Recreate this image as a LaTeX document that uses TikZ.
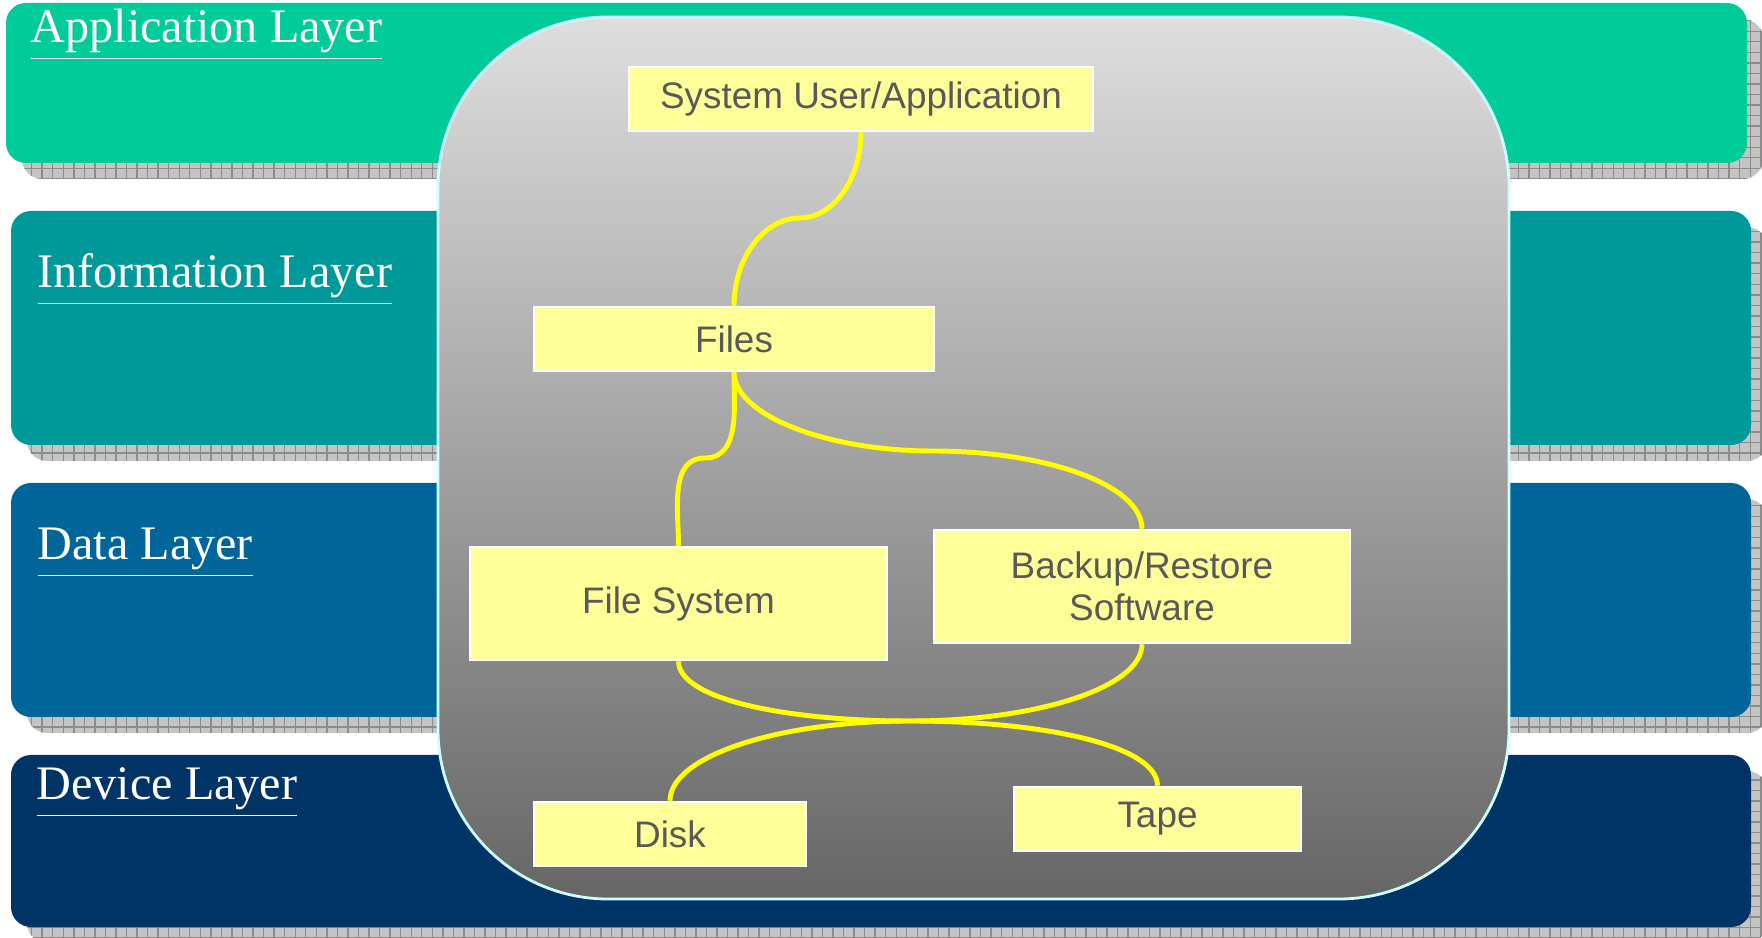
\documentclass[tikz,border=0pt]{standalone}
\usepackage{fontspec}
\setmainfont{Liberation Serif}
\newfontfamily\boxfont{Liberation Sans}
\usetikzlibrary{patterns}
\definecolor{appgreen}{RGB}{0,204,153}
\definecolor{infoteal}{RGB}{0,153,153}
\definecolor{datablue}{RGB}{0,102,153}
\definecolor{devblue}{RGB}{0,51,102}
\definecolor{shadowgray}{RGB}{196,196,196}
\definecolor{gridgray}{RGB}{140,140,140}
\definecolor{paneltop}{RGB}{222,222,222}
\definecolor{panelbottom}{RGB}{102,102,102}
\definecolor{panelrim}{RGB}{204,255,255}
\definecolor{boxyellow}{RGB}{255,255,153}
\definecolor{boxtext}{RGB}{89,89,89}
\definecolor{linkyellow}{RGB}{255,255,0}
\tikzset{
  band/.style={rounded corners=2mm},
  bandshadow/.style={rounded corners=2mm,fill=shadowgray,postaction={pattern=grid,pattern color=gridgray}},
  layertitle/.style={anchor=base west,text=white,inner sep=0pt,font=\fontsize{13.7}{16}\selectfont},
  compbox/.style={draw=white,line width=0.7pt,fill=boxyellow,text=boxtext,align=center,
    inner sep=0pt,minimum height=6.4mm,font=\boxfont\fontsize{10.5}{12}\selectfont},
  link/.style={draw=linkyellow,line width=1.4pt}
}
\begin{document}
\begin{tikzpicture}[x=0.1mm,y=-0.1mm]
  \useasboundingbox (0,0) rectangle (1762,938);
  % layer bands with their shadows
  \fill[bandshadow] (22,19) rectangle (1763,179);
  \fill[bandshadow] (27,227) rectangle (1767,461);
  \fill[bandshadow] (27,499) rectangle (1767,733);
  \fill[bandshadow] (27,771) rectangle (1767,943);
  \fill[band,appgreen] (6,3) rectangle (1747,163);
  \fill[band,infoteal] (11,211) rectangle (1751,445);
  \fill[band,datablue] (11,483) rectangle (1751,717);
  \fill[band,devblue] (11,755) rectangle (1751,927);
  \node[layertitle] (apptitle) at (30,43) {\underline{Application Layer}};
  \node[layertitle] (infotitle) at (37,288) {\underline{Information Layer}};
  \node[layertitle] (datatitle) at (37,560) {\underline{Data Layer}};
  \node[layertitle] (devtitle) at (36,800) {\underline{Device Layer}};
  % storage stack panel
  \draw[draw=panelrim,line width=0.8pt,top color=paneltop,bottom color=panelbottom,rounded corners=17mm]
    (438,17) rectangle (1509,899);
  \node[compbox,minimum width=46.4mm] (sysapp) at (861,99) {System User/Application};
  \node[compbox,minimum width=40mm] (files) at (734,339) {Files};
  \node[compbox,minimum width=41.7mm,minimum height=11.3mm] (filesys) at (678.5,603.5) {File System};
  \node[compbox,minimum width=41.6mm,minimum height=11.3mm] (backup) at (1142,586.5) {Backup/Restore\\Software};
  \node[compbox,minimum width=27.2mm] (disk) at (670,834) {Disk};
  \node[compbox,minimum width=28.7mm] (tape) at (1157.5,819) {Tape};
  \coordinate (bend1) at (800,218);
  \coordinate (bend2) at (705,458);
  \coordinate (bend3) at (933,451);
  \coordinate (hub) at (910,721);
  \draw[link] (sysapp.south) to[out=-90,in=0,out looseness=1.15,in looseness=0.8] (bend1)
    to[out=180,in=90,out looseness=0.85,in looseness=1.1] (files.north);
  \draw[link] (files.south) to[out=-90,in=0] (bend2) to[out=180,in=90] (filesys.north);
  \draw[link] (files.south) to[out=-90,in=180,out looseness=0.5,in looseness=1.3] (bend3)
    to[out=0,in=90,out looseness=1.3,in looseness=0.5] (backup.north);
  \draw[link] (filesys.south) to[out=-90,in=180,out looseness=0.4,in looseness=1.35] (hub)
    to[out=0,in=90,out looseness=1.35,in looseness=0.4] (tape.north);
  \draw[link] (backup.south) to[out=-90,in=0,out looseness=0.45,in looseness=1.33] (hub)
    to[out=180,in=90,out looseness=1.33,in looseness=0.45] (disk.north);
\end{tikzpicture}
\end{document}
